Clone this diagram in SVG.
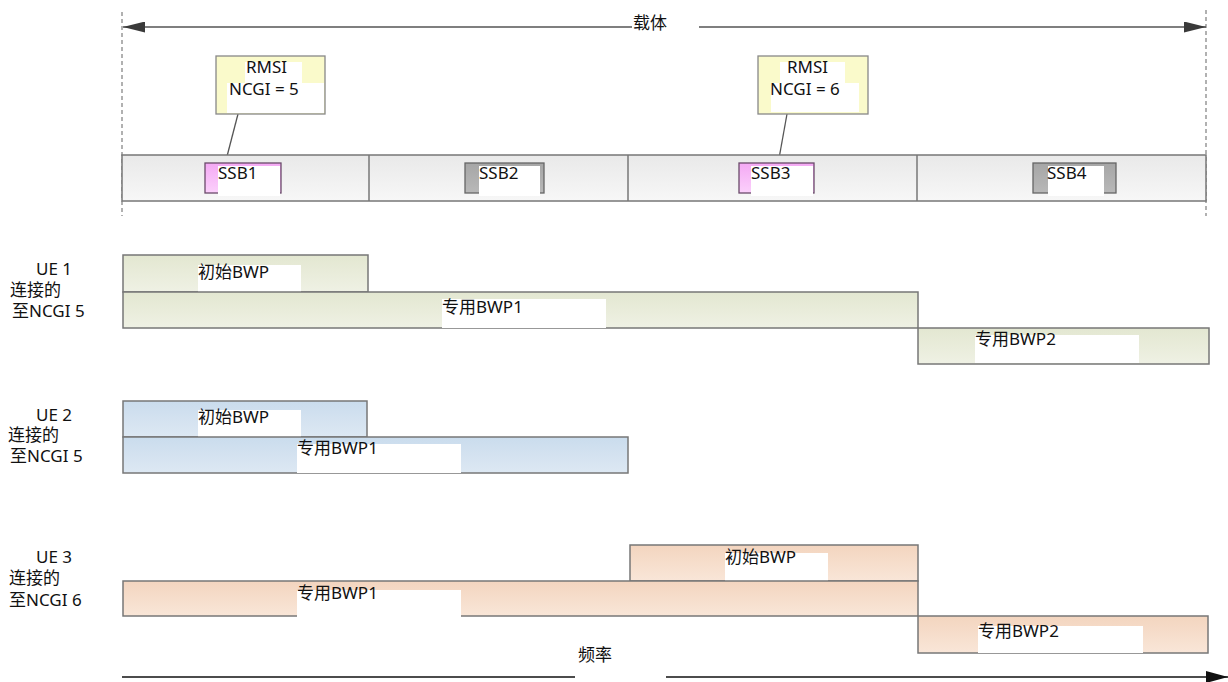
<svg xmlns="http://www.w3.org/2000/svg" width="1228" height="682" viewBox="0 0 1228 682">
<style>
text{font-family:"Noto Sans","Noto Sans CJK SC",sans-serif;font-size:17px;fill:#111}
.big{font-size:17px}
.bw{fill:#fff}
.bd{stroke:#777;stroke-width:1.5}
.dash{stroke:#888;stroke-width:1.3;stroke-dasharray:4 3;fill:none}
.ln{stroke:#555;stroke-width:1.3;fill:none}
</style>
<defs>
<linearGradient id="gGray" x1="0" y1="0" x2="0" y2="1"><stop offset="0" stop-color="#e9e9e9"/><stop offset="1" stop-color="#f7f7f7"/></linearGradient>
<linearGradient id="gGreen" x1="0" y1="0" x2="0" y2="1"><stop offset="0" stop-color="#e3e7d1"/><stop offset="1" stop-color="#eff1e4"/></linearGradient>
<linearGradient id="gBlue" x1="0" y1="0" x2="0" y2="1"><stop offset="0" stop-color="#cadced"/><stop offset="1" stop-color="#dde8f3"/></linearGradient>
<linearGradient id="gPeach" x1="0" y1="0" x2="0" y2="1"><stop offset="0" stop-color="#f3d5bf"/><stop offset="1" stop-color="#f9e6d8"/></linearGradient>
<linearGradient id="gPink" x1="0" y1="0" x2="0" y2="1"><stop offset="0" stop-color="#f4a9f4"/><stop offset="1" stop-color="#fbd0fb"/></linearGradient>
<linearGradient id="gSsb" x1="0" y1="0" x2="0" y2="1"><stop offset="0" stop-color="#a6a6a6"/><stop offset="1" stop-color="#b8b8b8"/></linearGradient>
<marker id="ah" viewBox="0 0 10 10" refX="10" refY="5" markerWidth="22" markerHeight="11" markerUnits="userSpaceOnUse" orient="auto-start-reverse" preserveAspectRatio="none"><path d="M0,0 L10,5 L0,10 z" fill="#3a3a3a"/></marker>
<marker id="ahk" viewBox="0 0 10 10" refX="10" refY="5" markerWidth="22" markerHeight="12" markerUnits="userSpaceOnUse" orient="auto" preserveAspectRatio="none"><path d="M0,0 L10,5 L0,10 z" fill="#111"/></marker>
</defs>

<g id="connectors">
<line class="dash" x1="122" y1="12" x2="122" y2="216"/>
<line class="dash" x1="1206" y1="10" x2="1206" y2="216"/>
<line x1="123" y1="27" x2="1206" y2="27" stroke="#555" stroke-width="1.5" marker-start="url(#ah)" marker-end="url(#ah)"/>
<line class="ln" x1="238" y1="114" x2="225" y2="164"/>
<line class="ln" x1="787" y1="114" x2="778" y2="164"/>
<line x1="122" y1="677" x2="1228" y2="677" stroke="#111" stroke-width="1.5" marker-end="url(#ahk)"/>
</g>

<g id="carrier-label">
<rect class="bw" x="632" y="14" width="67" height="24"/>
<text x="633" y="29">载体</text>
</g>

<g id="carrier-band">
<rect x="122" y="155" width="1084" height="46" fill="url(#gGray)" class="bd"/>
<line class="bd" x1="369" y1="155" x2="369" y2="201"/>
<line class="bd" x1="628" y1="155" x2="628" y2="201"/>
<line class="bd" x1="917" y1="155" x2="917" y2="201"/>
</g>

<g id="ssb1">
<rect x="205" y="163" width="76" height="30" fill="url(#gPink)" stroke="#6a4a6a" stroke-width="1.3"/>
<rect class="bw" x="218" y="166" width="62" height="30"/>
<text x="218" y="179">SSB1</text>
</g>
<g id="ssb2">
<rect x="465" y="163" width="79" height="30" fill="url(#gSsb)" stroke="#666" stroke-width="1.3"/>
<rect class="bw" x="479" y="166" width="61" height="30"/>
<text x="479" y="179">SSB2</text>
</g>
<g id="ssb3">
<rect x="739" y="163" width="75" height="30" fill="url(#gPink)" stroke="#6a4a6a" stroke-width="1.3"/>
<rect class="bw" x="751" y="166" width="62" height="30"/>
<text x="751" y="179">SSB3</text>
</g>
<g id="ssb4">
<rect x="1033" y="163" width="83" height="30" fill="url(#gSsb)" stroke="#666" stroke-width="1.3"/>
<rect class="bw" x="1048" y="166" width="56" height="30"/>
<text x="1047" y="179">SSB4</text>
</g>

<g id="rmsi1">
<rect x="216" y="56" width="109" height="58" fill="#fafacb" stroke="#888" stroke-width="1.3"/>
<rect class="bw" x="245" y="62" width="57" height="21"/>
<rect class="bw" x="227" y="83" width="97" height="30"/>
<text class="big" x="246" y="73">RMSI</text>
<text class="big" x="229" y="95">NCGI = 5</text>
</g>
<g id="rmsi2">
<rect x="758" y="56" width="110" height="58" fill="#fafacb" stroke="#888" stroke-width="1.3"/>
<rect class="bw" x="780" y="62" width="65" height="21"/>
<rect class="bw" x="771" y="83" width="88" height="29"/>
<text class="big" x="787" y="73">RMSI</text>
<text class="big" x="770" y="95">NCGI = 6</text>
</g>

<g id="ue1-label">
<text x="36" y="275">UE 1</text>
<text x="10" y="296">连接的</text>
<text x="12" y="317">至NCGI 5</text>
</g>
<g id="ue1-initial">
<rect x="123" y="255" width="245" height="37" fill="url(#gGreen)" class="bd"/>
<rect class="bw" x="198" y="265" width="103" height="28"/>
<text x="198" y="278">初始BWP</text>
</g>
<g id="ue1-bwp1">
<rect x="123" y="292" width="795" height="36" fill="url(#gGreen)" class="bd"/>
<rect class="bw" x="442" y="299" width="164" height="29"/>
<text x="442" y="313">专用BWP1</text>
</g>
<g id="ue1-bwp2">
<rect x="918" y="328" width="291" height="36" fill="url(#gGreen)" class="bd"/>
<rect class="bw" x="975" y="335" width="164" height="28"/>
<text x="975" y="345">专用BWP2</text>
</g>

<g id="ue2-label">
<text x="36" y="421">UE 2</text>
<text x="8" y="441">连接的</text>
<text x="10" y="462">至NCGI 5</text>
</g>
<g id="ue2-initial">
<rect x="123" y="401" width="244" height="36" fill="url(#gBlue)" class="bd"/>
<rect class="bw" x="198" y="410" width="103" height="28"/>
<text x="198" y="423">初始BWP</text>
</g>
<g id="ue2-bwp1">
<rect x="123" y="437" width="505" height="36" fill="url(#gBlue)" class="bd"/>
<rect class="bw" x="297" y="444" width="164" height="29"/>
<text x="297" y="454">专用BWP1</text>
</g>

<g id="ue3-label">
<text x="36" y="563">UE 3</text>
<text x="9" y="584">连接的</text>
<text x="9" y="606">至NCGI 6</text>
</g>
<g id="ue3-initial">
<rect x="630" y="545" width="288" height="36" fill="url(#gPeach)" class="bd"/>
<rect class="bw" x="725" y="553" width="103" height="29"/>
<text x="725" y="563">初始BWP</text>
</g>
<g id="ue3-bwp1">
<rect x="123" y="581" width="795" height="35" fill="url(#gPeach)" class="bd"/>
<rect class="bw" x="297" y="590" width="164" height="27"/>
<text x="297" y="599">专用BWP1</text>
</g>
<g id="ue3-bwp2">
<rect x="918" y="616" width="290" height="37" fill="url(#gPeach)" class="bd"/>
<rect class="bw" x="978" y="626" width="165" height="27"/>
<text x="978" y="637">专用BWP2</text>
</g>

<g id="freq-label">
<rect class="bw" x="575" y="640" width="91" height="42"/>
<text x="578" y="661">频率</text>
</g>
</svg>
